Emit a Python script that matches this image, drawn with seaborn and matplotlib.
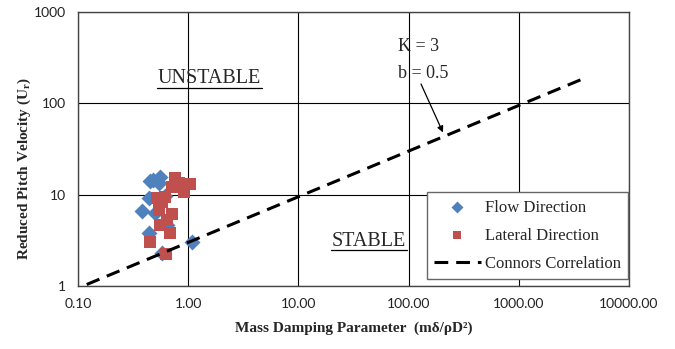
import numpy as np
import pandas as pd
import matplotlib
matplotlib.use("Agg")
import matplotlib.pyplot as plt
import seaborn as sns

# Flow-direction test points (mass damping parameter, reduced pitch velocity)
flow_md = [0.48, 0.56, 0.54, 0.45, 0.44, 0.38, 0.50, 0.62, 0.64, 0.44, 0.58, 1.08]
flow_ur = [14.5, 15.7, 13.3, 14.0, 9.1, 6.7, 6.3, 9.6, 4.7, 3.8, 2.3, 3.06]

# Lateral-direction test points
lat_md = [0.76, 0.82, 1.03, 0.91, 0.71, 0.52, 0.62, 0.58, 0.54, 0.71, 0.64,
          0.55, 0.69, 0.45, 0.63]
lat_ur = [15.1, 13.4, 13.1, 10.6, 12.2, 9.1, 9.5, 8.4, 6.8, 6.2, 5.3,
          4.6, 3.78, 3.06, 2.24]

# Connors correlation U = K * (m delta / rho D^2)^b
K = 3
b = 0.5
connors_md = [0.12, 4000.0]

x_ticks = [0.1, 1, 10, 100, 1000, 10000]
x_ticklabels = ["0.10", "1.00", "10.00", "100.00", "1000.00", "10000.00"]
y_ticks = [1, 10, 100, 1000]
y_ticklabels = ["1", "10", "100", "1000"]

BLUE = "#4F81BD"
RED = "#C0504D"
SERIF = ["Liberation Serif", "DejaVu Serif"]
SANS = ["Lato", "DejaVu Sans"]

sns.set_theme(style="white")
plt.rcParams["font.family"] = SERIF
plt.rcParams["mathtext.default"] = "regular"

fig = plt.figure(figsize=(6.75, 3.49), dpi=100)
ax = fig.add_axes([78 / 675, 1 - 286 / 349, 551 / 675, 274 / 349])

flow_df = pd.DataFrame({"md": flow_md, "ur": flow_ur})
lat_df = pd.DataFrame({"md": lat_md, "ur": lat_ur})
connors_df = pd.DataFrame({"md": connors_md,
                           "ur": [K * v ** b for v in connors_md]})

sns.scatterplot(data=flow_df, x="md", y="ur", ax=ax, marker="D", s=66,
                color=BLUE, linewidth=0, label="Flow Direction", zorder=3)
sns.scatterplot(data=lat_df, x="md", y="ur", ax=ax, marker="s", s=70,
                color=RED, linewidth=0, label="Lateral Direction", zorder=4)
sns.lineplot(data=connors_df, x="md", y="ur", ax=ax, color="black",
             linewidth=2.2, label="Connors Correlation", zorder=5)
ax.lines[-1].set_dashes([4.5, 2.6])

ax.set_xscale("log")
ax.set_yscale("log")
ax.set_xlim(0.1, 10000)
ax.set_ylim(1, 1000)
ax.set_xticks(x_ticks)
ax.set_xticklabels(x_ticklabels, fontsize=10, family=SANS, color="#222222")
ax.set_yticks(y_ticks)
ax.set_yticklabels(y_ticklabels, fontsize=10, family=SANS, color="#222222")
ax.minorticks_off()
ax.tick_params(length=0, pad=9)
ax.grid(True, which="major", color="black", linewidth=0.8)
for side, sp in ax.spines.items():
    sp.set_color("#444444")
    sp.set_linewidth(1.0)

ax.set_xlabel("Mass Damping Parameter  (mδ/ρD²)", fontsize=11,
              fontweight="bold", labelpad=8)
ax.set_ylabel("Reduced Pitch Velocity (U$_r$)", fontsize=11,
              fontweight="bold")
ax.yaxis.set_label_coords(-0.082, 0.43)

# Region labels
ax.text(0.238, 0.759, "UNSTABLE", transform=ax.transAxes, fontsize=14.5,
        ha="center", va="center")
ax.plot([(157 - 78) / 551, (262 - 78) / 551], [(286 - 88) / 274] * 2,
        transform=ax.transAxes, color="black", linewidth=0.9)
ax.text(0.528, 0.164, "STABLE", transform=ax.transAxes, fontsize=14.5,
        ha="center", va="center")
ax.plot([(331 - 78) / 551, (407 - 78) / 551], [(286 - 250) / 274] * 2,
        transform=ax.transAxes, color="black", linewidth=0.9)

# Correlation parameters with arrow to the line
ax.text(0.58, 0.875, f"K = {K}", transform=ax.transAxes, fontsize=13,
        ha="left", va="center")
ax.text(0.58, 0.777, f"b = {b}", transform=ax.transAxes, fontsize=13,
        ha="left", va="center")
ax.annotate("", xy=(205, 48), xycoords="data",
            xytext=((421 - 78) / 551, (286 - 84) / 274),
            textcoords="axes fraction",
            arrowprops=dict(arrowstyle="-|>", color="black", lw=0.9,
                            mutation_scale=9, shrinkA=0, shrinkB=0))

leg = ax.legend(loc="lower right", bbox_to_anchor=(0.999, 0.025),
                fontsize=12, frameon=True, fancybox=False,
                edgecolor="#666666", framealpha=1, borderpad=0.45,
                labelspacing=0.72, handlelength=2.8, handletextpad=0.25,
                borderaxespad=0, markerscale=0.75)
leg.get_frame().set_linewidth(1.0)

fig.savefig("out.png", dpi=100)
